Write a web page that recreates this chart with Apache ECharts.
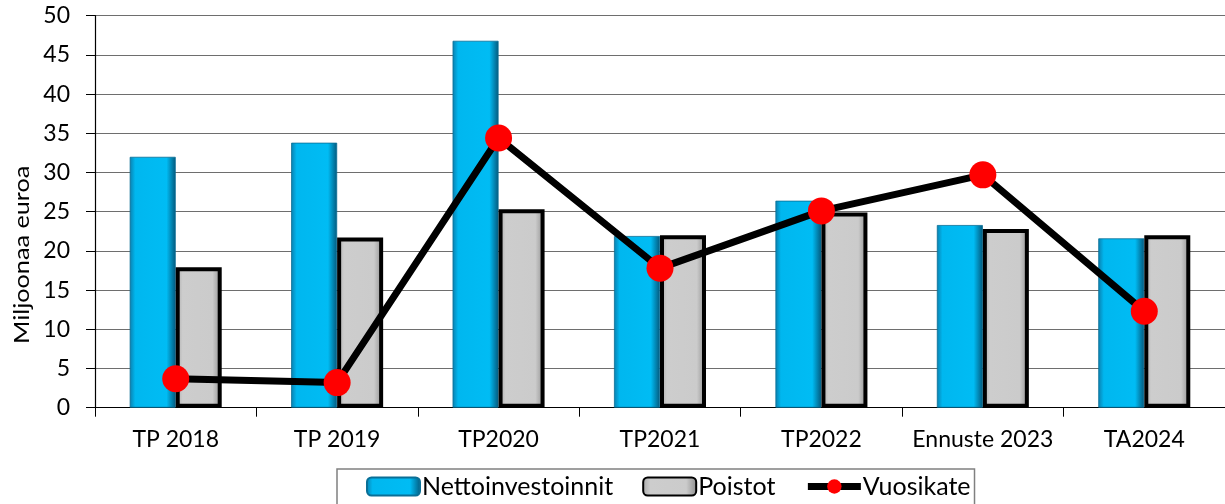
<!DOCTYPE html>
<html>
<head>
<meta charset="utf-8">
<script src="https://cdn.jsdelivr.net/npm/echarts@6/dist/echarts.min.js"></script>
<style>
html,body{margin:0;padding:0;background:#fff;}
#c{width:1225px;height:504px;}
</style>
</head>
<body>
<div id="c"></div>
<script>
var categories = ['TP 2018', 'TP 2019', 'TP2020', 'TP2021', 'TP2022', 'Ennuste 2023', 'TA2024'];
var nettoinvestoinnit = [32.0, 33.8, 46.8, 21.9, 26.4, 23.3, 21.6];
var poistot = [17.9, 21.7, 25.3, 22.0, 24.9, 22.8, 22.0];
var vuosikate = [3.7, 3.2, 34.4, 17.8, 25.1, 29.7, 12.3];
var yTicks = [0, 5, 10, 15, 20, 25, 30, 35, 40, 45, 50];

var FONT = 'Lato';
var chart = echarts.init(document.getElementById('c'));
var blueGrad = new echarts.graphic.LinearGradient(0, 0, 1, 0, [
  {offset: 0, color: '#0a7fae'},
  {offset: 0.12, color: '#00b7ef'},
  {offset: 0.8, color: '#00bcf4'},
  {offset: 1, color: '#04587c'}
]);
var greyGrad = new echarts.graphic.LinearGradient(0, 0, 1, 0, [
  {offset: 0, color: '#a8a8a8'},
  {offset: 0.15, color: '#cdcdcd'},
  {offset: 0.8, color: '#cbcbcb'},
  {offset: 1, color: '#8c8c8c'}
]);
chart.setOption({
  animation: false,
  textStyle: {fontFamily: FONT, color: '#000'},
  grid: {left: 95, top: 15.7, width: 1133, height: 392},
  legend: {
    left: 337, top: 469,
    padding: [5, 4, 10, 29],
    itemGap: 29,
    itemWidth: 53, itemHeight: 18,
    borderColor: '#808080', borderWidth: 1.5, borderRadius: 0,
    textStyle: {fontFamily: FONT, fontSize: 25, color: '#000', padding: [0, 0, 0, -3]},
    data: [
      {name: 'Nettoinvestoinnit'},
      {name: 'Poistot'},
      {name: 'Vuosikate', lineStyle: {width: 7, color: '#000'}}
    ]
  },
  graphic: [{
    type: 'text',
    x: 12, y: 344,
    rotation: Math.PI / 2,
    scaleX: 1.2,
    style: {text: 'Miljoonaa euroa', font: '21px Lato', fontSize: 21, fontFamily: FONT, fill: '#000'}
  }],
  xAxis: {
    type: 'category',
    data: categories,
    axisLine: {lineStyle: {color: '#000', width: 1.2}},
    axisTick: {show: true, length: 9, lineStyle: {color: '#000'}},
    axisLabel: {interval: 0, fontFamily: FONT, fontSize: 23, color: '#000', margin: 20}
  },
  yAxis: {
    type: 'value',
    min: yTicks[0], max: yTicks[yTicks.length - 1], interval: 5,
    axisLine: {show: true, lineStyle: {color: '#000', width: 1.2}},
    axisTick: {show: true, length: 9, lineStyle: {color: '#000'}},
    axisLabel: {fontFamily: FONT, fontSize: 23, color: '#000', margin: 25},
    splitLine: {lineStyle: {color: '#6e6e6e', width: 1.2}}
  },
  series: [
    {
      name: 'Nettoinvestoinnit', type: 'bar', data: nettoinvestoinnit,
      barWidth: 46, barGap: '0%',
      itemStyle: {color: blueGrad, borderColor: '#0a6f96', borderWidth: 0.8}
    },
    {
      name: 'Poistot', type: 'bar', data: poistot,
      barWidth: 46,
      itemStyle: {color: greyGrad, borderColor: '#000', borderWidth: 4}
    },
    {
      name: 'Vuosikate', type: 'line', data: vuosikate,
      symbol: 'circle', symbolSize: 27, z: 5,
      lineStyle: {color: '#000', width: 7},
      itemStyle: {color: '#ff0000', borderWidth: 0}
    }
  ]
});
</script>
</body>
</html>
